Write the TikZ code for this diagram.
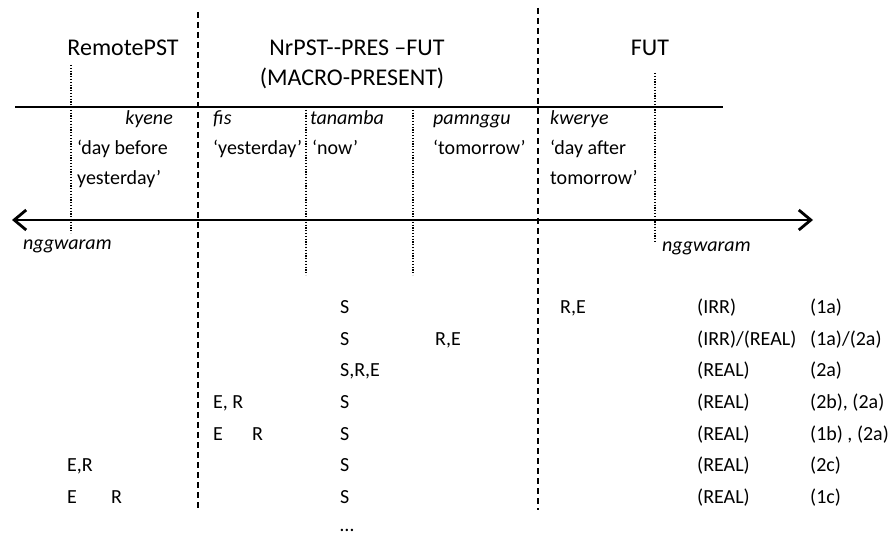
\documentclass[tikz,border=0pt]{standalone}
\usepackage{fontspec}
\setmainfont{Carlito}
\usetikzlibrary{arrows.meta}
\newcommand{\bodysize}{\fontsize{20}{24}\selectfont}
\newcommand{\headsize}{\fontsize{24}{29}\selectfont}
\tikzset{
  lbl/.style={inner sep=0pt, anchor=base west, font=\bodysize},
  word/.style={lbl, font=\bodysize\itshape},
  head/.style={inner sep=0pt, anchor=base, font=\headsize},
  bound/.style={line width=1.8pt, dash pattern=on 6pt off 4pt},
  daymark/.style={line width=1.4pt, dash pattern=on 1.2pt off 1.6pt},
  timeline/.style={line width=2.8pt, {Straight Barb[length=12pt,width=20pt]}-{Straight Barb[length=12pt,width=20pt]}}
}
\begin{document}
\begin{tikzpicture}[x=1pt,y=-1pt]
\useasboundingbox (0,0) rectangle (892,537);
% period headings
\node[head] (remote) at (123,56) {RemotePST};
\node[head] (macro) at (357,56) {NrPST-{}-PRES –FUT};
\node[head] (macrob) at (352,86) {(MACRO-PRESENT)};
\node[head] (fut) at (650,56) {FUT};
% boundaries
\coordinate (bA) at (198,12);
\coordinate (bAend) at (198,510);
\coordinate (bB) at (538,8);
\coordinate (bBend) at (538,510);
\draw[bound] (bA) -- (bAend);
\draw[bound] (bB) -- (bBend);
\coordinate (rule) at (15,107);
\coordinate (ruleend) at (723,107);
\draw[line width=2pt] (rule) -- (ruleend);
% day marks
\coordinate (mA) at (71,65);   \coordinate (mAend) at (71,233);
\coordinate (mB) at (306,107); \coordinate (mBend) at (306,275);
\coordinate (mC) at (413,107); \coordinate (mCend) at (413,275);
\coordinate (mD) at (655,73);  \coordinate (mDend) at (655,242);
\draw[daymark] (mA) -- (mAend);
\draw[daymark] (mB) -- (mBend);
\draw[daymark] (mC) -- (mCend);
\draw[daymark] (mD) -- (mDend);
\coordinate (past) at (12,220);
\coordinate (future) at (813,220);
\draw[timeline] (past) -- (future);
% day words and glosses
\node[word, anchor=base east] (kyene) at (173,125) {kyene};
\node[word] (fis) at (213,125) {fis};
\node[word] (tanamba) at (310,125) {tanamba};
\node[word] (pamnggu) at (433,125) {pamnggu};
\node[word] (kwerye) at (550,125) {kwerye};
\node[lbl] (glA) at (77,155) {‘day before};
\node[lbl] (glAb) at (77,185) {yesterday’};
\node[lbl] (glB) at (213,155) {‘yesterday’};
\node[lbl] (glC) at (312,155) {‘now’};
\node[lbl] (glD) at (433,155) {‘tomorrow’};
\node[lbl] (glE) at (550,155) {‘day after};
\node[lbl] (glEb) at (550,185) {tomorrow’};
\node[word] (farpast) at (23,250) {nggwaram};
\node[word] (farfut) at (662,252) {nggwaram};
% S, R, E rows
\foreach \y/\mood/\ex [count=\i] in {314/(IRR)/(1a), 345.5/{(IRR)/(REAL)}/{(1a)/(2a)}, 377/(REAL)/(2a), 408.5/(REAL)/{(2b), (2a)}, 440/(REAL)/{(1b) , (2a)}, 471.5/(REAL)/(2c), 503/(REAL)/(1c)}{
  \node[lbl] (s\i) at (340,\y) {\ifnum\i=3 S,R,E\else S\fi};
  \node[lbl] (mood\i) at (697,\y) {\mood};
  \node[lbl] (ex\i) at (810,\y) {\ex};
}
\node[lbl] (reA) at (560,314) {R,E};
\node[lbl] (reB) at (435,345.5) {R,E};
\node[lbl] (erD) at (213,408.5) {E, R};
\node[lbl] (eE) at (213,440) {E};
\node[lbl] (rE) at (252,440) {R};
\node[lbl] (erF) at (67,471.5) {E,R};
\node[lbl] (eG) at (67,503) {E};
\node[lbl] (rG) at (111,503) {R};
\node[lbl] (more) at (340,531) {…};
\end{tikzpicture}
\end{document}
